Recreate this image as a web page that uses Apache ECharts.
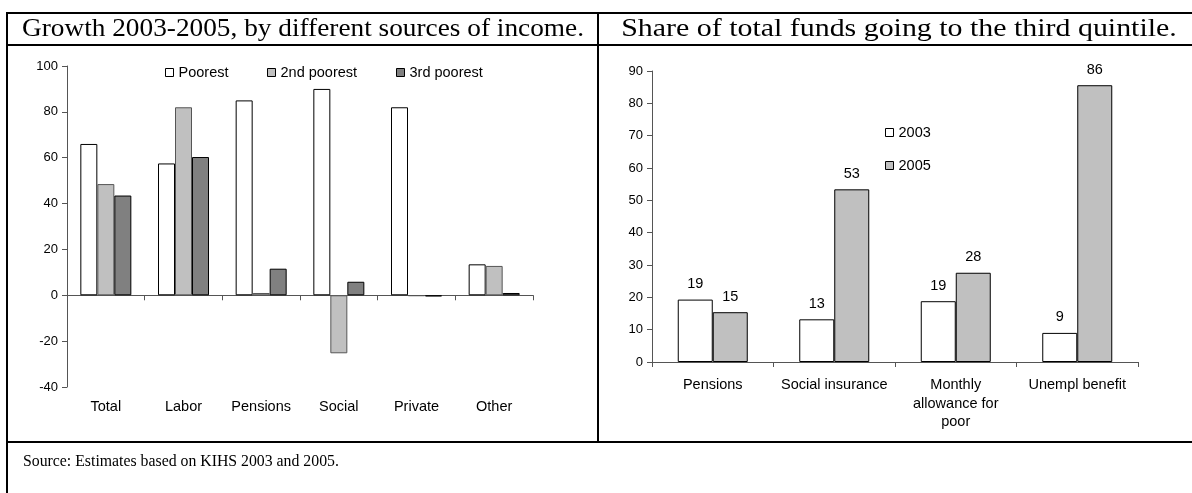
<!DOCTYPE html>
<html>
<head>
<meta charset="utf-8">
<script src="https://cdn.jsdelivr.net/npm/echarts@6/dist/echarts.min.js"></script>
<style>
html,body{margin:0;padding:0;background:#fff;}
#c{width:1192px;height:493px;}
</style>
</head>
<body>
<div id="c"></div>
<script>
// ---- Data ----
const leftTitle = "Growth 2003-2005, by different sources of income.";
const rightTitle = "Share of total funds going to the third quintile.";
const sourceText = "Source: Estimates based on KIHS 2003 and 2005.";

const leftCategories = ["Total", "Labor", "Pensions", "Social", "Private", "Other"];
const poorest    = [66, 57.5, 85, 90, 82, 13.5];
const secondPoor = [48.5, 82, 1, -25.3, -0.3, 12.8];
const thirdPoor  = [43.5, 60.3, 11.6, 5.9, -0.5, 1];
const leftTicks  = { min: -40, max: 100, interval: 20 };

const rightCategories = ["Pensions", "Social insurance", "Monthly\nallowance for\npoor", "Unempl benefit"];
const y2003 = [19.3, 13.2, 18.8, 9.0];
const y2005 = [15.4, 53.4, 27.6, 85.6];
const rightTicks = { min: 0, max: 90, interval: 10 };

// ---- Chart ----
const chart = echarts.init(document.getElementById('c'), null, {renderer: 'canvas'});
const sans = "'Liberation Sans', Arial, sans-serif";
const serif = "'Liberation Serif', 'Times New Roman', serif";
const fs = 13;
const fsc = 14.5;

function line(x1, y1, x2, y2, w) {
  return { type: 'line', silent: true, shape: {x1, y1, x2, y2}, style: {stroke: '#000', lineWidth: w || 2} };
}
const legendText = {fontSize: fsc, fontFamily: sans, color: '#000'};
const legendItem = {borderColor: '#000', borderWidth: 1};
const legendBase = { padding: 0, itemWidth: 8, itemHeight: 8, itemTextGap: 2, textStyle: legendText, itemStyle: legendItem, icon: 'rect' };

const option = {
  animation: false,
  backgroundColor: '#fff',
  textStyle: { fontFamily: sans, color: '#000' },
  graphic: [
    line(7, 13, 1192, 13),
    line(7, 45, 1192, 45),
    line(7, 442, 1192, 442),
    line(7, 12, 7, 493),
    line(598, 13, 598, 442),
    { type: 'text', silent: true, x: 303, y: 29, scaleX: 1.05, style: { text: leftTitle, font: '26px ' + serif, fill: '#000', textAlign: 'center', textVerticalAlign: 'middle' } },
    { type: 'text', silent: true, x: 899, y: 29, scaleX: 1.15, style: { text: rightTitle, font: '26px ' + serif, fill: '#000', textAlign: 'center', textVerticalAlign: 'middle' } },
    { type: 'text', silent: true, x: 23, y: 462, style: { text: sourceText, font: '15.8px ' + serif, fill: '#000', textAlign: 'left', textVerticalAlign: 'middle' } }
  ],
  legend: [
    Object.assign({}, legendBase, { data: ['Poorest'], left: 165, top: 65 }),
    Object.assign({}, legendBase, { data: ['2nd poorest'], left: 267, top: 65 }),
    Object.assign({}, legendBase, { data: ['3rd poorest'], left: 396, top: 65 }),
    Object.assign({}, legendBase, { data: ['2003', '2005'], orient: 'vertical', left: 885, top: 125, itemGap: 18 })
  ],
  grid: [
    { left: 67, top: 66, width: 466, height: 321 },
    { left: 652, top: 71, width: 486, height: 291 }
  ],
  xAxis: [
    { gridIndex: 0, type: 'category', data: leftCategories, boundaryGap: true,
      axisLine: { onZero: true, lineStyle: {color: '#555', width: 1} },
      axisTick: { show: true, alignWithLabel: false, length: 5, inside: false, lineStyle: {color: '#555'} },
      axisLabel: { show: false }, splitLine: {show: false} },
    { gridIndex: 0, type: 'category', data: leftCategories, position: 'bottom', boundaryGap: true,
      axisLine: { show: false, onZero: false }, axisTick: { show: false },
      axisLabel: { show: true, margin: 12, fontSize: fsc, color: '#000', fontFamily: sans } },
    { gridIndex: 1, type: 'category', data: rightCategories, boundaryGap: true,
      axisLine: { lineStyle: {color: '#555', width: 1} },
      axisTick: { show: true, alignWithLabel: false, length: 5, lineStyle: {color: '#555'} },
      axisLabel: { margin: 14, fontSize: fsc, color: '#000', fontFamily: sans, lineHeight: 18.5, interval: 0 } }
  ],
  yAxis: [
    { gridIndex: 0, type: 'value', min: leftTicks.min, max: leftTicks.max, interval: leftTicks.interval,
      axisLine: { show: true, lineStyle: {color: '#555', width: 1} },
      axisTick: { show: true, length: 5, lineStyle: {color: '#555'} },
      splitLine: { show: false },
      axisLabel: { fontSize: fs, color: '#000', margin: 9, fontFamily: sans } },
    { gridIndex: 1, type: 'value', min: rightTicks.min, max: rightTicks.max, interval: rightTicks.interval,
      axisLine: { show: true, lineStyle: {color: '#555', width: 1} },
      axisTick: { show: true, length: 5, lineStyle: {color: '#555'} },
      splitLine: { show: false },
      axisLabel: { fontSize: fs, color: '#000', margin: 9, fontFamily: sans } }
  ],
  series: [
    { name: 'Poorest', type: 'bar', xAxisIndex: 0, yAxisIndex: 0, data: poorest, barWidth: 17, barGap: '0%',
      itemStyle: { color: '#ffffff', borderColor: '#000', borderWidth: 1 } },
    { name: '2nd poorest', type: 'bar', xAxisIndex: 0, yAxisIndex: 0, data: secondPoor, barWidth: 17, barGap: '0%',
      itemStyle: { color: '#c0c0c0', borderColor: '#555', borderWidth: 1 } },
    { name: '3rd poorest', type: 'bar', xAxisIndex: 0, yAxisIndex: 0, data: thirdPoor, barWidth: 17, barGap: '0%',
      itemStyle: { color: '#808080', borderColor: '#000', borderWidth: 1 } },
    { name: '2003', type: 'bar', xAxisIndex: 2, yAxisIndex: 1, data: y2003, barWidth: 35, barGap: '0%',
      itemStyle: { color: '#ffffff', borderColor: '#000', borderWidth: 1 },
      label: { show: true, position: 'top', distance: 8, fontSize: fsc, color: '#000', fontFamily: sans, formatter: p => Math.round(p.value) } },
    { name: '2005', type: 'bar', xAxisIndex: 2, yAxisIndex: 1, data: y2005, barWidth: 35, barGap: '0%',
      itemStyle: { color: '#c0c0c0', borderColor: '#000', borderWidth: 1 },
      label: { show: true, position: 'top', distance: 8, fontSize: fsc, color: '#000', fontFamily: sans, formatter: p => Math.round(p.value) } }
  ]
};
chart.setOption(option);
</script>
</body>
</html>
